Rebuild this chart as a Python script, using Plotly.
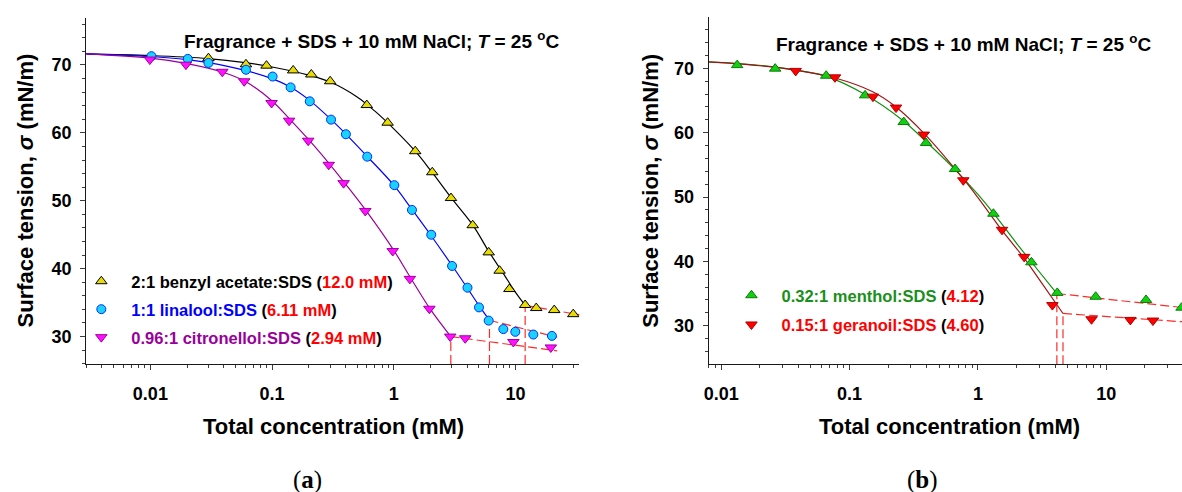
import plotly.graph_objects as go

# ---------------- panel (a): total concentration (mM) vs surface tension (mN/m)
ba_conc = [0.030, 0.061, 0.090, 0.149, 0.21, 0.30, 0.60, 0.89, 1.50, 2.07, 2.95, 4.45,
           6.02, 7.4, 8.9, 12.0, 14.8, 20.8, 29.8]
ba_sigma = [71.0, 70.1, 69.9, 69.2, 68.6, 67.6, 64.1, 61.5, 57.3, 54.2, 50.4, 46.4,
            42.4, 39.7, 37.0, 34.65, 34.2, 33.9, 33.3]

li_conc = [0.0102, 0.0203, 0.030, 0.061, 0.101, 0.142, 0.204, 0.305, 0.404, 0.605, 1.01,
           1.41, 2.03, 3.01, 4.03, 5.01, 6.02, 7.94, 9.96, 14.0, 19.9]
li_sigma = [71.3, 70.9, 70.3, 69.3, 68.3, 66.7, 64.65, 61.95, 59.8, 56.5, 52.3,
            48.65, 45.0, 40.4, 37.2, 34.3, 32.35, 31.1, 30.7, 30.3, 30.1]

ci_conc = [0.0099, 0.0196, 0.039, 0.059, 0.099, 0.138, 0.198, 0.292, 0.387, 0.583, 0.98,
           1.355, 1.96, 2.91, 3.86, 9.6, 19.5]
ci_sigma = [70.8, 70.05, 69.0, 67.6, 64.4, 61.8, 58.85, 55.3, 52.6, 48.5, 42.6,
            38.5, 34.1, 30.0, 29.75, 29.2, 28.4]

# fitted isotherms below the CMC (knots of the drawn curves)
ba_fit_conc = [0.0029, 0.01, 0.03, 0.06, 0.1, 0.2, 0.3, 0.5, 0.7, 1.0, 1.5, 2.0, 3.0,
               4.5, 6.0, 8.0, 10.0]
ba_fit_sigma = [71.65, 71.4, 70.95, 70.35, 69.7, 68.5, 67.5, 65.3, 63.2, 60.6, 57.3, 54.5,
                50.3, 46.3, 42.6, 39.2, 36.5]
li_fit_conc = [0.0029, 0.01, 0.02, 0.03, 0.06, 0.1, 0.14, 0.2, 0.3, 0.4, 0.6, 1.0, 1.4,
               2.0, 3.0, 4.0, 5.0]
li_fit_sigma = [71.65, 71.25, 70.8, 70.35, 69.2, 68.0, 66.8, 64.9, 62.1, 59.9, 56.6, 52.3,
                48.8, 45.0, 40.5, 37.2, 34.6]
ci_fit_conc = [0.0029, 0.01, 0.02, 0.04, 0.06, 0.1, 0.14, 0.2, 0.3, 0.4, 0.6, 1.0, 1.4, 2.0]
ci_fit_sigma = [71.65, 71.0, 70.2, 68.9, 67.6, 64.7, 62.0, 59.0, 55.3, 52.5, 48.4, 42.7,
                38.4, 34.0]

# CMC values (mM), tension at the CMC and at the end of the post-CMC line
a_cmc_text = ["12.0", "6.11", "2.94"]
a_cmc_sigma = [34.6, 32.4, 30.0]
a_post_conc = [34.0, 22.0, 22.0]
a_post_sigma = [33.2, 29.9, 27.9]

# ---------------- panel (b)
me_conc = [0.0133, 0.0263, 0.0657, 0.132, 0.264, 0.394, 0.663, 1.32, 2.61, 4.15, 8.27,
           20.4, 38.6]
me_sigma = [70.5, 69.95, 68.85, 65.8, 61.65, 58.4, 54.35, 47.4, 39.85, 35.1, 34.5,
            34.0, 32.8]
ge_conc = [0.038, 0.0769, 0.152, 0.23, 0.378, 0.769, 1.54, 2.29, 3.8, 7.67, 15.4, 23.1]
ge_sigma = [69.6, 68.6, 65.6, 63.9, 59.7, 52.6, 44.9, 40.7, 33.2, 31.0, 30.9, 30.8]

me_fit_conc = [0.0079, 0.0133, 0.0263, 0.0657, 0.13, 0.26, 0.39, 0.66, 1.0, 1.32, 2.0, 2.61]
me_fit_sigma = [71.0, 70.75, 70.2, 68.75, 66.0, 61.9, 58.7, 54.3, 50.4, 47.5, 42.8, 39.9]
ge_fit_conc = [0.0079, 0.02, 0.038, 0.077, 0.15, 0.23, 0.38, 0.77, 1.0, 1.54, 2.29, 3.0]
ge_fit_sigma = [71.0, 70.4, 69.7, 68.5, 66.4, 64.0, 59.9, 52.8, 49.9, 44.8, 40.5, 37.2]

b_cmc_text = ["4.12", "4.60"]
b_cmc_sigma = [35.0, 31.9]
b_post_conc = [40.0, 40.0]
b_post_sigma = [32.8, 30.6]

# ---------------- styling
W, H = 1182, 492
FONT = "Liberation Sans, Arial, Helvetica, sans-serif"
SERIF = "Liberation Serif, Times New Roman, serif"
LINE_C = "#1a1a1a"
TICK_C = "#3c3c3c"
DASH_C = "#ff2b2b"
VAL_C = "#ff0000"

a_xrange = [-2.526, 1.5245]
a_yrange = [25.96, 76.95]
b_xrange = [-2.098, 1.59]
b_yrange = [24.0, 77.93]

decades = [0.01, 0.1, 1, 10]
decade_text = ["0.01", "0.1", "1", "10"]
minor_x = [m * 10.0 ** e for e in range(-3, 2) for m in range(2, 10)]
sigma_major = [30, 40, 50, 60, 70]
sigma_minor = [v for v in range(26, 78, 2) if v % 10]

TICKFONT = dict(family=FONT, size=18, color="black", weight="bold")


def fx(p):
    return p / W


def fy(p):
    return 1 - p / H


def x_axis(rng, side, ticks, minor_ticks=None, line=False, labels=False, **kw):
    ax = dict(type="log", range=rng, side=side, tickmode="array", tickvals=decades,
              ticktext=decade_text, ticks=ticks, ticklen=5, tickwidth=1.3, tickcolor=TICK_C,
              showticklabels=labels, tickfont=TICKFONT, showgrid=False, zeroline=False,
              showline=line, linecolor=LINE_C, linewidth=1.3, fixedrange=True,
              ticklabelstandoff=8)
    if minor_ticks:
        ax["minor"] = dict(tickmode="array", tickvals=minor_x, ticks=minor_ticks, ticklen=3,
                           tickwidth=1, tickcolor=TICK_C, showgrid=False)
    ax.update(kw)
    return ax


def y_axis(rng, side, ticks, minor_ticks=None, line=False, labels=False, **kw):
    ax = dict(range=rng, side=side, tickmode="array", tickvals=sigma_major,
              ticks=ticks, ticklen=5, tickwidth=1.3, tickcolor=TICK_C,
              showticklabels=labels, tickfont=TICKFONT, showgrid=False, zeroline=False,
              showline=line, linecolor=LINE_C, linewidth=1.3, fixedrange=True,
              ticklabelstandoff=5)
    if minor_ticks:
        ax["minor"] = dict(tickmode="array", tickvals=sigma_minor, ticks=minor_ticks,
                           ticklen=3, tickwidth=1, tickcolor=TICK_C, showgrid=False)
    ax.update(kw)
    return ax


fig = go.Figure()


def curve(x, y, color, xa, ya, dash=None, width=1.2, shape="spline"):
    fig.add_trace(go.Scatter(x=x, y=y, mode="lines", xaxis=xa, yaxis=ya, showlegend=False,
                             hoverinfo="skip",
                             line=dict(color=color, width=width, dash=dash, shape=shape)))


def points(x, y, symbol, fill, edge, name, xa, ya, legend):
    fig.add_trace(go.Scatter(x=x, y=y, mode="markers", xaxis=xa, yaxis=ya, name=name,
                             legend=legend, legendgroup=name,
                             marker=dict(symbol=symbol, size=10 if "triangle" in symbol else 9,
                                         color=fill, line=dict(color=edge, width=1))))


DASH = "9px,4px"

# ---- panel (a) curves
a_cmc = [float(t) for t in a_cmc_text]
curve(ba_fit_conc + [a_cmc[0]], ba_fit_sigma + [a_cmc_sigma[0]], "#000000", "x", "y")
curve(li_fit_conc + [a_cmc[1]], li_fit_sigma + [a_cmc_sigma[1]], "#0000ff", "x", "y")
curve(ci_fit_conc + [a_cmc[2]], ci_fit_sigma + [a_cmc_sigma[2]], "#990099", "x", "y")
for c, s, pc, ps in zip(a_cmc, a_cmc_sigma, a_post_conc, a_post_sigma):
    curve([c, pc], [s, ps], DASH_C, "x", "y", dash=DASH, shape="linear")
    curve([c, c], [a_yrange[0], s], DASH_C, "x", "y", dash=DASH, shape="linear")

# ---- panel (b) curves
b_cmc = [float(t) for t in b_cmc_text]
curve(me_fit_conc + [b_cmc[0]], me_fit_sigma + [b_cmc_sigma[0]], "#119011", "x2", "y2")
curve(ge_fit_conc + [b_cmc[1]], ge_fit_sigma + [b_cmc_sigma[1]], "#a01414", "x2", "y2")
for c, s, pc, ps in zip(b_cmc, b_cmc_sigma, b_post_conc, b_post_sigma):
    curve([c, pc], [s, ps], DASH_C, "x2", "y2", dash=DASH, shape="linear")
    curve([c, c], [b_yrange[0], s], DASH_C, "x2", "y2", dash=DASH, shape="linear")


def entry(label, color, value):
    return (f'<span style="color:{color}">{label}</span> '
            f'(<span style="color:{VAL_C}">{value}</span>)')


points(ba_conc, ba_sigma, "triangle-up", "#e8dc00", "#000000",
       entry("2:1 benzyl acetate:SDS", "#000000", a_cmc_text[0] + " mM"), "x", "y", "legend")
points(li_conc, li_sigma, "circle", "#19d2ff", "#0030ff",
       entry("1:1 linalool:SDS", "#0000ff", a_cmc_text[1] + " mM"), "x", "y", "legend")
points(ci_conc, ci_sigma, "triangle-down", "#ff10ff", "#a000a0",
       entry("0.96:1 citronellol:SDS", "#990099", a_cmc_text[2] + " mM"), "x", "y", "legend")
points(me_conc, me_sigma, "triangle-up", "#11d011", "#0a7a0a",
       entry("0.32:1 menthol:SDS", "#1a8f1a", b_cmc_text[0]), "x2", "y2", "legend2")
points(ge_conc, ge_sigma, "triangle-down", "#ff0000", "#b00000",
       entry("0.15:1 geranoil:SDS", "#ff0000", b_cmc_text[1]), "x2", "y2", "legend2")

A_X0, A_X1, A_Y0, A_Y1 = 81.7, 576.8, 17.8, 364.0
B_X0, B_X1, B_Y0, B_Y1 = 706.7, 1182.0, 17.3, 364.3

legend_style = dict(bgcolor="rgba(0,0,0,0)", xanchor="left", yanchor="top",
                    font=dict(family=FONT, size=16.5, color="black", weight="bold"),
                    itemwidth=50, traceorder="grouped")

fig.update_layout(
    width=W, height=H, margin=dict(l=0, r=0, t=0, b=0),
    paper_bgcolor="white", plot_bgcolor="white", showlegend=True,
    legend=dict(x=fx(66.6), y=fy(264), tracegroupgap=3.5, **legend_style),
    legend2=dict(x=fx(719.5), y=fy(278), tracegroupgap=4.8, **legend_style),
    # panel (a) frame
    xaxis=x_axis(a_xrange, "bottom", "outside", "outside", line=True, labels=True,
                 domain=[fx(A_X0), fx(A_X1)], anchor="y"),
    yaxis=y_axis(a_yrange, "left", "outside", "outside", line=True, labels=True,
                 domain=[fy(A_Y1), fy(A_Y0)], anchor="x"),
    xaxis3=x_axis(a_xrange, "bottom", "inside", overlaying="x", anchor="y"),
    xaxis5=x_axis(a_xrange, "top", "outside", "inside", line=True, overlaying="x", anchor="y"),
    xaxis7=x_axis(a_xrange, "top", "inside", overlaying="x", anchor="y"),
    yaxis3=y_axis(a_yrange, "left", "inside", overlaying="y", anchor="x"),
    yaxis5=y_axis(a_yrange, "right", "outside", "inside", line=True, overlaying="y", anchor="x"),
    yaxis7=y_axis(a_yrange, "right", "inside", overlaying="y", anchor="x"),
    # panel (b) frame
    xaxis2=x_axis(b_xrange, "bottom", "outside", "outside", line=True, labels=True,
                  domain=[fx(B_X0), fx(B_X1)], anchor="y2"),
    yaxis2=y_axis(b_yrange, "left", "outside", "outside", line=True, labels=True,
                  domain=[fy(B_Y1), fy(B_Y0)], anchor="x2"),
    xaxis4=x_axis(b_xrange, "bottom", "inside", overlaying="x2", anchor="y2"),
    xaxis6=x_axis(b_xrange, "top", "outside", "inside", line=True, overlaying="x2", anchor="y2"),
    xaxis8=x_axis(b_xrange, "top", "inside", overlaying="x2", anchor="y2"),
    yaxis4=y_axis(b_yrange, "left", "inside", overlaying="y2", anchor="x2"),
)

title = "<b>Fragrance + SDS + 10 mM NaCl; <i>T</i> = 25 <sup>o</sup>C</b>"
xtitle = "<b>Total concentration (mM)</b>"
ytitle = "<b>Surface tension, <i>σ</i> (mN/m)</b>"
ann = []
for cx, cy in [(367.8, 40.0), (963.0, 42.5)]:
    ann.append(dict(text=title, x=fx(cx), y=fy(cy), font=dict(family=FONT, size=19, color="black")))
for cx in [329.6, 948.3]:
    ann.append(dict(text=xtitle, x=fx(cx), y=fy(426), font=dict(family=FONT, size=22, color="black")))
for cx in [21.0, 648.0]:
    ann.append(dict(text=ytitle, x=fx(cx), y=fy(190.5), textangle=-90,
                    font=dict(family=FONT, size=22, color="black")))
for txt, cx in [("(<b>a</b>)", 304.0), ("(<b>b</b>)", 921.0)]:
    ann.append(dict(text=txt, x=fx(cx), y=fy(480), font=dict(family=SERIF, size=25, color="black")))
for a in ann:
    a.update(xref="paper", yref="paper", showarrow=False, xanchor="center", yanchor="middle")
fig.update_layout(annotations=ann)

fig.write_html("out.html")
